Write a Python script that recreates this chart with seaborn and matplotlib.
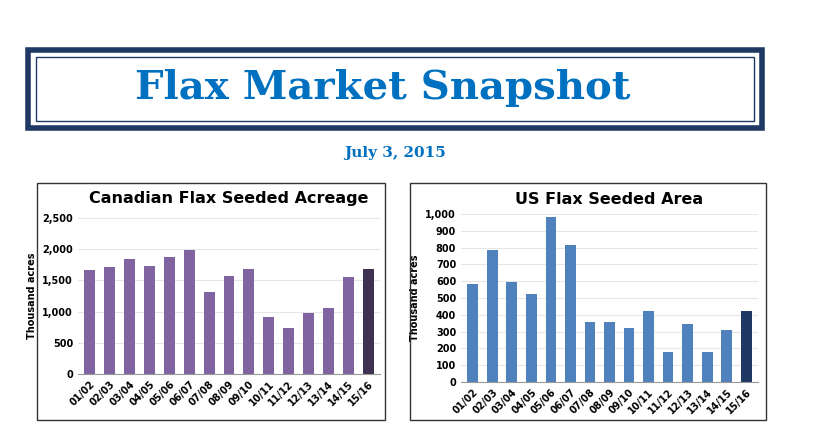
import matplotlib
matplotlib.use("Agg")
import matplotlib.pyplot as plt
import seaborn as sns
import pandas as pd
from matplotlib.patches import Rectangle
from matplotlib.ticker import FuncFormatter

years = ["01/02","02/03","03/04","04/05","05/06","06/07","07/08","08/09","09/10","10/11","11/12","12/13","13/14","14/15","15/16"]
canada = [1660,1710,1840,1730,1880,1990,1310,1570,1690,920,740,985,1055,1560,1690]
us = [585,785,595,525,985,815,355,355,320,420,180,345,180,310,420]

W, H = 815, 426
fig = plt.figure(figsize=(W/100, H/100), dpi=100)

def fx(x): return x/W
def fy(y): return 1 - y/H

# Title box
fig.patches.append(Rectangle((fx(28), fy(128)), fx(734), 78/H, transform=fig.transFigure,
                             fill=False, edgecolor="#1F3864", lw=4))
fig.patches.append(Rectangle((fx(36), fy(121)), fx(718), 64/H, transform=fig.transFigure,
                             fill=False, edgecolor="#1F3864", lw=1))
fig.text(fx(383), fy(88), "Flax Market Snapshot", ha="center", va="center",
         fontsize=29, fontweight="bold", family="DejaVu Serif", color="#0070C0")
fig.text(fx(395), fy(153), "July 3, 2015", ha="center", va="center",
         fontsize=11, fontweight="bold", family="DejaVu Serif", color="#0070C0")

# Panel boxes
for x0, x1 in [(37, 385), (410, 766)]:
    fig.patches.append(Rectangle((fx(x0), fy(420)), fx(x1-x0), 237/H, transform=fig.transFigure,
                                 fill=False, edgecolor="#333333", lw=1))

def draw(ax, vals, col, last, ymax, step, title, pad):
    df = pd.DataFrame({"year": years, "val": vals})
    pal = [col]*(len(years)-1) + [last]
    sns.barplot(data=df, x="year", y="val", hue="year", palette=pal, legend=False,
                ax=ax, width=0.55, saturation=1)
    ax.set_ylim(0, ymax)
    ax.set_yticks(range(0, ymax+1, step))
    ax.yaxis.set_major_formatter(FuncFormatter(lambda v, p: f"{int(v):,}"))
    ax.grid(axis="y", color="#e6e6e6", lw=0.8)
    ax.set_axisbelow(True)
    for s in ["top", "right", "left"]:
        ax.spines[s].set_visible(False)
    ax.spines["bottom"].set_color("#999999")
    ax.tick_params(axis="y", length=0, labelsize=7)
    ax.tick_params(axis="x", length=0, labelsize=7)
    for t in ax.get_yticklabels() + ax.get_xticklabels():
        t.set_fontweight("bold")
    plt.setp(ax.get_xticklabels(), rotation=45, ha="right", rotation_mode="anchor")
    ax.set_xlabel("")
    ax.set_ylabel("Thousand acres", fontsize=7, fontweight="bold")
    ax.set_title(title, fontsize=11.5, fontweight="bold", pad=pad)
    ax.set_xlim(-0.6, len(years)-0.4)

ax1 = fig.add_axes([fx(78), fy(374), fx(302), (374-218)/H])
draw(ax1, canada, "#8064A2", "#3F3151", 2500, 500, "Canadian Flax Seeded Acreage", 11)
ax2 = fig.add_axes([fx(461), fy(382), fx(297), (382-214)/H])
draw(ax2, us, "#4F81BD", "#1F3864", 1000, 100, "US Flax Seeded Area", 7)

fig.savefig("out.png", dpi=100)
